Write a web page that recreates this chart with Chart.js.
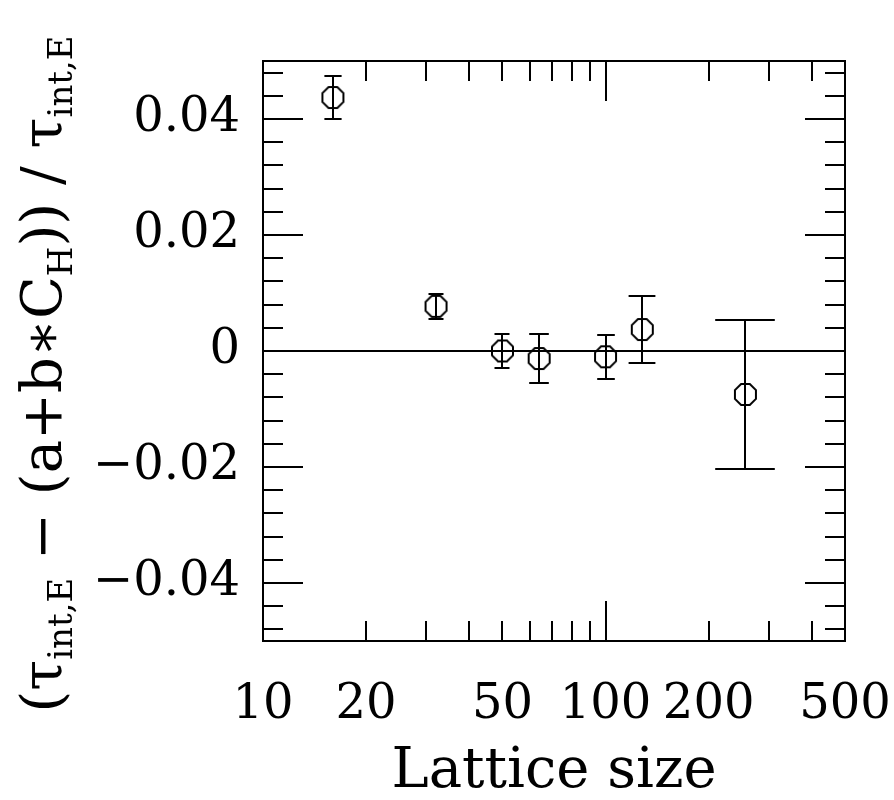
<!DOCTYPE html>
<html>
<head>
<meta charset="utf-8">
<script src="https://cdn.jsdelivr.net/npm/chart.js@4.4.0/dist/chart.umd.min.js"></script>
<style>
  html, body { margin: 0; padding: 0; background: #fff; }
  #wrap { width: 894px; height: 800px; }
</style>
</head>
<body>
<div id="wrap"><canvas id="residChart" width="894" height="800"></canvas></div>
<script>
// Datos
const latticeSizes = [16, 32, 50, 64, 100, 128, 256];
const residuals = [0.0437, 0.0077, 0.0000, -0.0013, -0.0010, 0.0037, -0.0075];
const residErrors = [0.0037, 0.0021, 0.0030, 0.0042, 0.0038, 0.0057, 0.0129];

// Etiquetas de los ejes
const xTickValues = [10, 20, 50, 100, 200, 500];
const yTickValues = [-0.04, -0.02, 0, 0.02, 0.04];
const xMinorTicks = [20, 30, 40, 50, 60, 70, 80, 90, 200, 300, 400];
const xMajorTicks = [100];
const xTitle = 'Lattice size';
// partes del título Y: [texto, es subíndice]
const yTitleParts = [['(τ', false], ['int,E', true], [' − (a+b∗C', false], ['H', true], [')) / τ', false], ['int,E', true]];

const FONT = 'DejaVu Serif';

// Marcador octogonal (no existe en Chart.js)
function crearOctogono(ancho) {
    const c = document.createElement('canvas');
    c.width = ancho + 4;
    c.height = ancho + 4;
    const g = c.getContext('2d');
    const cx = c.width / 2;
    const r = (ancho / 2) / Math.cos(Math.PI / 8);
    g.beginPath();
    for (let k = 0; k < 8; k++) {
        const a = Math.PI / 8 + k * Math.PI / 4;
        const px = cx + r * Math.cos(a);
        const py = cx + r * Math.sin(a);
        if (k === 0) g.moveTo(px, py); else g.lineTo(px, py);
    }
    g.closePath();
    g.strokeStyle = '#000';
    g.lineWidth = 2;
    g.stroke();
    return c;
}
const octogono = crearOctogono(21);

// Marco, marcas interiores, barras de error y título del eje Y
const marcoPlugin = {
    id: 'marco',
    afterDatasetsDraw(chart) {
        const { ctx, chartArea: a, scales: { x, y } } = chart;
        ctx.save();
        ctx.strokeStyle = '#000';
        ctx.lineWidth = 2;
        ctx.strokeRect(a.left, a.top, a.right - a.left, a.bottom - a.top);

        ctx.beginPath();
        // marcas en x (abajo y arriba)
        xMinorTicks.concat(xMajorTicks).forEach(v => {
            const px = Math.round(x.getPixelForValue(v));
            const len = xMajorTicks.includes(v) ? 40 : 20;
            ctx.moveTo(px, a.bottom); ctx.lineTo(px, a.bottom - len);
            ctx.moveTo(px, a.top); ctx.lineTo(px, a.top + len);
        });
        // marcas en y (izquierda y derecha), cada 0.004
        for (let k = -12; k <= 12; k++) {
            const v = k * 0.004;
            const py = Math.round(y.getPixelForValue(v));
            const len = (k % 5 === 0) ? 40 : 20;
            ctx.moveTo(a.left, py); ctx.lineTo(a.left + len, py);
            ctx.moveTo(a.right, py); ctx.lineTo(a.right - len, py);
        }
        ctx.stroke();

        // barras de error
        ctx.beginPath();
        latticeSizes.forEach((s, i) => {
            const px = Math.round(x.getPixelForValue(s));
            const yTop = Math.round(y.getPixelForValue(residuals[i] + residErrors[i]));
            const yBot = Math.round(y.getPixelForValue(residuals[i] - residErrors[i]));
            const half = Math.max(7.5, 0.4 * (yBot - yTop) / 2);
            ctx.moveTo(px, yTop); ctx.lineTo(px, yBot);
            ctx.moveTo(px - half, yTop); ctx.lineTo(px + half, yTop);
            ctx.moveTo(px - half, yBot); ctx.lineTo(px + half, yBot);
        });
        ctx.stroke();

        // título del eje Y con subíndices
        const mainFont = '56px "' + FONT + '"';
        const subFont = '34px "' + FONT + '"';
        let total = 0;
        yTitleParts.forEach(p => {
            ctx.font = p[1] ? subFont : mainFont;
            total += ctx.measureText(p[0]).width;
        });
        ctx.translate(61, 374);
        ctx.rotate(-Math.PI / 2);
        ctx.fillStyle = '#000';
        ctx.textBaseline = 'alphabetic';
        ctx.textAlign = 'left';
        let cur = -total / 2;
        yTitleParts.forEach(p => {
            ctx.font = p[1] ? subFont : mainFont;
            ctx.fillText(p[0], cur, p[1] ? 11 : 0);
            cur += ctx.measureText(p[0]).width;
        });
        ctx.restore();
    }
};

const ctx = document.getElementById('residChart').getContext('2d');
const residChart = new Chart(ctx, {
    type: 'scatter',
    data: {
        datasets: [
            {
                label: 'cero',
                type: 'line',
                data: [{ x: 10, y: 0 }, { x: 500, y: 0 }],
                borderColor: '#000',
                borderWidth: 2,
                pointRadius: 0,
                fill: false
            },
            {
                label: 'residuos',
                data: latticeSizes.map((s, i) => ({ x: s, y: residuals[i] })),
                pointStyle: octogono,
                pointRadius: 12,
                borderColor: '#000',
                backgroundColor: 'rgba(0,0,0,0)'
            }
        ]
    },
    options: {
        responsive: false,
        animation: false,
        events: [],
        layout: { padding: { top: 61, right: 49, left: 0, bottom: 0 } },
        plugins: { legend: { display: false }, tooltip: { enabled: false } },
        scales: {
            x: {
                type: 'logarithmic',
                min: 10,
                max: 500,
                afterBuildTicks: s => { s.ticks = xTickValues.map(v => ({ value: v })); },
                afterFit: s => { s.height = 159; s.paddingLeft = 0; s.paddingRight = 0; },
                grid: { display: false, drawTicks: false },
                border: { display: false },
                ticks: {
                    autoSkip: false,
                    maxRotation: 0,
                    padding: 36,
                    color: '#000',
                    font: { family: FONT, size: 48 },
                    callback: v => String(v)
                },
                title: {
                    display: true,
                    text: xTitle,
                    color: '#000',
                    font: { family: FONT, size: 56 },
                    padding: { top: 0, bottom: -6 }
                }
            },
            y: {
                min: -0.05,
                max: 0.05,
                afterBuildTicks: s => { s.ticks = yTickValues.map(v => ({ value: v })); },
                afterFit: s => { s.width = 263; s.paddingTop = 0; s.paddingBottom = 0; },
                grid: { display: false, drawTicks: false },
                border: { display: false },
                ticks: {
                    padding: 23,
                    color: '#000',
                    font: { family: FONT, size: 48 },
                    callback: v => {
                        if (Math.abs(v) < 1e-9) return '0';
                        return (v < 0 ? '−' : '') + Math.abs(v).toFixed(2);
                    }
                }
            }
        }
    },
    plugins: [marcoPlugin]
});
</script>
</body>
</html>
